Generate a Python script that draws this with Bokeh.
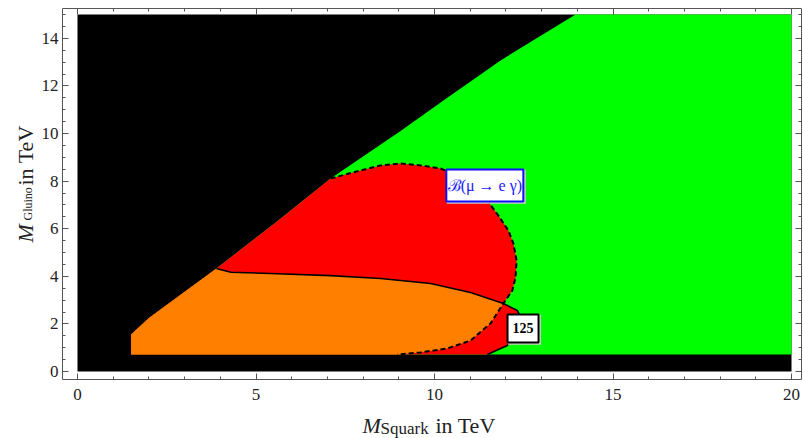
import numpy as np
from bokeh.plotting import figure
from bokeh.models import Range1d, LinearAxis, SingleIntervalTicker
from bokeh.embed import file_html
from bokeh.resources import INLINE
from bokeh.core.properties import value

# ---------------- data ----------------
x_domain = [0, 20]          # M_Squark range of the scan (TeV)
y_domain = [0, 15]          # M_Gluino range of the scan (TeV)
strip_top = 0.71            # excluded low-gluino strip

# left edge of the allowed region (bottom -> top)
edge_left_x = [1.5, 1.5, 2.0, 3.89]
edge_left_y = [0.71, 1.55, 2.25, 4.33]

# diagonal edge of the allowed region (bottom -> top)
diag_x = [3.89, 5.5, 7.09, 9.05, 10.25, 11.85, 13.95]
diag_y = [4.33, 6.2, 8.11, 10.1, 11.39, 13.07, 15.0]

# BR(mu -> e gamma) contour (dashed), from diagonal to the strip
meg_x = [7.09, 7.93, 8.49, 9.05, 9.61, 10.17, 10.65, 11.10, 11.48, 11.79, 12.07,
         12.21, 12.30, 12.27, 12.18, 11.93, 11.57, 11.01, 10.36, 9.61, 8.96]
meg_y = [8.11, 8.45, 8.66, 8.74, 8.66, 8.53, 8.22, 7.75, 7.18, 6.55, 5.92,
         5.38, 4.66, 3.95, 3.40, 2.86, 2.02, 1.30, 0.97, 0.80, 0.71]
meg_cross = 15              # index of the crossing with the Higgs contour

# m_h = 125 GeV contour (solid)
mh_x = [3.89, 4.3, 5.41, 7.09, 8.49, 9.89, 11.01, 11.93, 12.32, 12.45, 12.40, 12.04, 11.48]
mh_y = [4.33, 4.17, 4.12, 4.03, 3.91, 3.70, 3.32, 2.86, 2.56, 2.20, 1.70, 1.09, 0.71]
mh_cross = 7                # index of the crossing with the dashed contour

x_ticks = [0, 5, 10, 15, 20]
y_ticks = [0, 2, 4, 6, 8, 10, 12, 14]

label_meg = "ℬ(μ → e γ)"
label_mh = "125"
label_meg_pos = (11.41, 7.82)
label_mh_pos = (12.48, 1.81)

# ---------------- region polygons built from the data ----------------
green_x = [edge_left_x[0], x_domain[1], x_domain[1]] + diag_x[::-1] + edge_left_x[-2:0:-1]
green_y = [strip_top, strip_top, y_domain[1]] + diag_y[::-1] + edge_left_y[-2:0:-1]

red_x = edge_left_x + [diag_x[1], diag_x[2]] + meg_x[1:meg_cross + 1] + mh_x[mh_cross + 1:]
red_y = edge_left_y + [diag_y[1], diag_y[2]] + meg_y[1:meg_cross + 1] + mh_y[mh_cross + 1:]

orange_x = edge_left_x + mh_x[1:mh_cross + 1] + meg_x[meg_cross + 1:]
orange_y = edge_left_y + mh_y[1:mh_cross + 1] + meg_y[meg_cross + 1:]

# ---------------- layout constants (pixels of the 803x438 page) ----------------
W, H = 803, 438
PX0, PXS = 77.0, 35.7       # page x of M_Squark = 0, pixels per TeV
PY0, PYS = 371.0, 23.8      # page y of M_Gluino = 0, pixels per TeV


def dx(px):
    return (px - PX0) / PXS


def dy(py):
    return (PY0 - py) / PYS


x_lo, x_hi = dx(62), dx(801)     # frame box
y_lo, y_hi = dy(379), dy(8)

SERIF = "Liberation Serif"
TXT = "#222222"
FRAME = "#555555"

# the figure's own frame covers the whole canvas; the drawn frame is made of fixed axes
p = figure(width=W, height=H,
           x_range=Range1d(dx(0), dx(W)), y_range=Range1d(dy(H), dy(0)),
           output_backend="svg", toolbar_location=None,
           x_axis_location=None, y_axis_location=None, min_border=0)
p.grid.visible = False
p.outline_line_color = None
p.background_fill_color = "white"
p.border_fill_color = "white"

p.quad(left=x_domain[0], right=x_domain[1], bottom=y_domain[0], top=y_domain[1],
       fill_color="black", line_color=None)
p.patch(green_x, green_y, fill_color="#00ff00", line_color=None)
p.patch(red_x, red_y, fill_color="#ff0000", line_color=None)
p.patch(orange_x, orange_y, fill_color="#ff8000", line_color=None)

p.line(mh_x, mh_y, line_color="black", line_width=1.6)
p.line(meg_x, meg_y, line_color="black", line_width=2, line_dash="5 3")

# boxed labels
p.rect(x=[label_meg_pos[0] + 0.04], y=[label_meg_pos[1] - 0.06], width=79, height=34,
       width_units="screen", height_units="screen", fill_color="#cccccc", line_color=None)
p.rect(x=[label_meg_pos[0]], y=[label_meg_pos[1]], width=77, height=32,
       width_units="screen", height_units="screen", fill_color="white",
       line_color="#1010ff", line_width=2)
p.text(x=[label_meg_pos[0]], y=[label_meg_pos[1]], text=[label_meg],
       text_font=value(SERIF), text_font_size="16px", text_color="#2020ff",
       text_align="center", text_baseline="middle")

p.rect(x=[label_mh_pos[0] + 0.04], y=[label_mh_pos[1] - 0.06], width=33, height=30,
       width_units="screen", height_units="screen", fill_color="#cccccc", line_color=None)
p.rect(x=[label_mh_pos[0]], y=[label_mh_pos[1]], width=31, height=28,
       width_units="screen", height_units="screen", fill_color="white",
       line_color="black", line_width=2)
p.text(x=[label_mh_pos[0]], y=[label_mh_pos[1]], text=[label_mh],
       text_font=value(SERIF), text_font_size="14px", text_font_style="bold",
       text_color="black", text_align="center", text_baseline="middle")


# ---------------- axes: a frame with inward ticks on all four sides ----------------
def style(ax, show_labels, standoff=6):
    ax.major_tick_in = 6
    ax.major_tick_out = 0
    ax.minor_tick_in = 3
    ax.minor_tick_out = 0
    ax.axis_line_color = FRAME
    ax.major_tick_line_color = FRAME
    ax.minor_tick_line_color = FRAME
    ax.major_label_text_font = SERIF
    if show_labels:
        ax.major_label_text_color = TXT
        ax.major_label_text_font_size = "17px"
        ax.major_label_standoff = standoff
    else:
        ax.major_label_text_color = None
        ax.major_label_text_alpha = 0
        ax.major_label_text_font_size = "0px"
        ax.major_label_standoff = 0


xt = dict(interval=x_ticks[1] - x_ticks[0], num_minor_ticks=5)
yt = dict(interval=y_ticks[1] - y_ticks[0], num_minor_ticks=4)

ax_b = LinearAxis(ticker=SingleIntervalTicker(**xt), fixed_location=y_lo, bounds=(x_lo, x_hi))
ax_t = LinearAxis(ticker=SingleIntervalTicker(**xt), fixed_location=y_hi, bounds=(x_lo, x_hi))
ax_l = LinearAxis(ticker=SingleIntervalTicker(**yt), fixed_location=x_lo, bounds=(y_lo, y_hi))
ax_r = LinearAxis(ticker=SingleIntervalTicker(**yt), fixed_location=x_hi, bounds=(y_lo, y_hi))
style(ax_b, True, 9)
style(ax_t, False)
style(ax_l, True, 4)
style(ax_r, False)
p.add_layout(ax_b, "below")
p.add_layout(ax_t, "above")
p.add_layout(ax_l, "left")
p.add_layout(ax_r, "right")

# ---------------- axis titles: M with a subscript ----------------
MAIN = "22px"
# x title
p.text(x=[dx(362)], y=[dy(425)], text=["M"], text_font=value(SERIF),
       text_font_style="italic", text_font_size=MAIN, text_color=TXT,
       text_baseline="alphabetic", text_align="left")
p.text(x=[dx(380)], y=[dy(428)], text=["Squark"], text_font=value(SERIF),
       text_font_size="17px", text_color=TXT, text_baseline="alphabetic", text_align="left")
p.text(x=[dx(435)], y=[dy(425)], text=["in TeV"], text_font=value(SERIF),
       text_font_size=MAIN, text_color=TXT, text_baseline="alphabetic", text_align="left")

# y title (rotated, reads bottom -> top)
ang = np.pi / 2
p.text(x=[dx(25)], y=[dy(242)], text=["M"], angle=ang, text_font=value(SERIF),
       text_font_style="italic", text_font_size=MAIN, text_color=TXT,
       text_baseline="alphabetic", text_align="left")
p.text(x=[dx(27)], y=[dy(220)], text=["Gluino"], angle=ang, text_font=value(SERIF),
       text_font_size="12px", text_color=TXT, text_baseline="alphabetic", text_align="left")
p.text(x=[dx(25)], y=[dy(185)], text=["in TeV"], angle=ang, text_font=value(SERIF),
       text_font_size=MAIN, text_color=TXT, text_baseline="alphabetic", text_align="left")

open("out.html", "w").write(file_html(p, INLINE))
